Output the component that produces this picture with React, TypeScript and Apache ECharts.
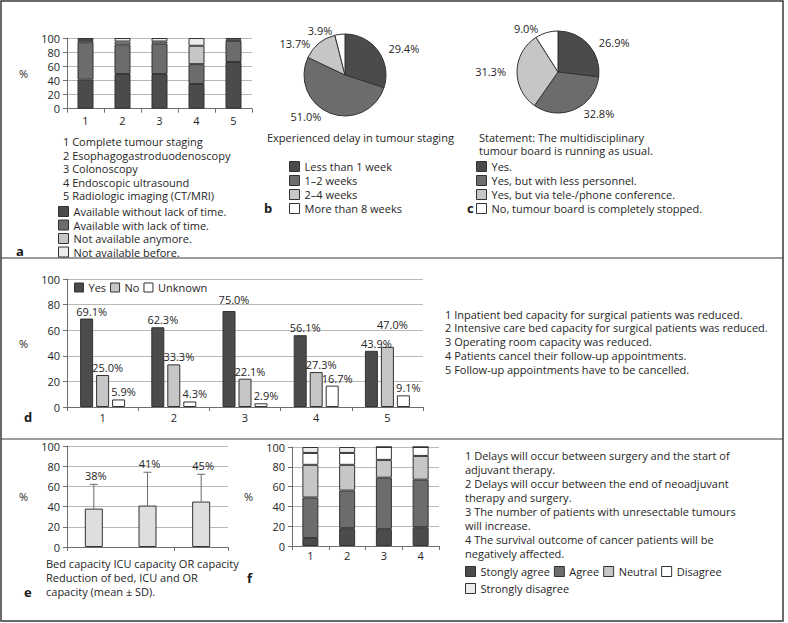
import React, { useEffect, useRef } from "react";
import * as echarts from "echarts";

// ---------- Panel a ----------
const aCategories = ["1", "2", "3", "4", "5"];
const aSeriesNames = [
  "Available without lack of time.",
  "Available with lack of time.",
  "Not available anymore.",
  "Not available before.",
];
const aWithoutLack = [41, 49, 49, 35, 66];
const aWithLack = [53, 42, 43, 28, 30];
const aNotAnymore = [3, 4, 3, 26, 2];
const aNotBefore = [3, 5, 5, 11, 2];
const aItems = [
  "1 Complete tumour staging",
  "2 Esophagogastroduodenoscopy",
  "3 Colonoscopy",
  "4 Endoscopic ultrasound",
  "5 Radiologic imaging (CT/MRI)",
];

// ---------- Panel b ----------
const bNames = ["Less than 1 week", "1–2 weeks", "2–4 weeks", "More than 8 weeks"];
const bValues = [29.4, 51.0, 13.7, 3.9];
const bTitle = "Experienced delay in tumour staging";

// ---------- Panel c ----------
const cNames = [
  "Yes.",
  "Yes, but with less personnel.",
  "Yes, but via tele-/phone conference.",
  "No, tumour board is completely stopped.",
];
const cValues = [26.9, 32.8, 31.3, 9.0];
const cTitle = ["Statement: The multidisciplinary", "tumour board is running as usual."];

// ---------- Panel d ----------
const dCategories = ["1", "2", "3", "4", "5"];
const dSeriesNames = ["Yes", "No", "Unknown"];
const dYes = [69.1, 62.3, 75.0, 56.1, 43.9];
const dNo = [25.0, 33.3, 22.1, 27.3, 47.0];
const dUnknown = [5.9, 4.3, 2.9, 16.7, 9.1];
const dItems = [
  "1 Inpatient bed capacity for surgical patients was reduced.",
  "2 Intensive care bed capacity for surgical patients was reduced.",
  "3 Operating room capacity was reduced.",
  "4 Patients cancel their follow-up appointments.",
  "5 Follow-up appointments have to be cancelled.",
];

// ---------- Panel e ----------
const eCategories = ["Bed capacity", "ICU capacity", "OR capacity"];
const eMeans = [38, 41, 45];
const eSD = [24, 33, 27];
const eCaption = ["Reduction of bed, ICU and OR", "capacity (mean ± SD)."];

// ---------- Panel f ----------
const fCategories = ["1", "2", "3", "4"];
const fSeriesNames = ["Stongly agree", "Agree", "Neutral", "Disagree", "Strongly disagree"];
const fStronglyAgree = [8, 18, 17, 19];
const fAgree = [41, 38, 52, 48];
const fNeutral = [33, 26, 18, 24];
const fDisagree = [12, 12, 13, 9];
const fStronglyDisagree = [6, 6, 0, 0];
const fItems = [
  "1 Delays will occur between surgery and the start of",
  "adjuvant therapy.",
  "2 Delays will occur between the end of neoadjuvant",
  "therapy and surgery.",
  "3 The number of patients with unresectable tumours",
  "will increase.",
  "4 The survival outcome of cancer patients will be",
  "negatively affected.",
];

// ---------- Styles ----------
const FONT = '"Open Sans", sans-serif';
const TXT = "#262626";
const DARK = "#4b4b4b";
const MED = "#6c6c6c";
const LIGHT = "#c6c6c6";
const VLIGHT = "#ececec";
const WHITE = "#ffffff";
const EBAR = "#dedede";
const BORDER = "#333333";
const AXIS = "#6e6e6e";
const GRID = "#b8b8b8";

// per-label vertical nudges for panel d (series index, data index, dy)
const dLabelNudge: [number, number, number][] = [
  [0, 2, -4],
  [1, 4, -15],
];

function txt(text: string, x: number, y: number, extra: any = {}) {
  return {
    type: "text",
    x,
    y,
    silent: true,
    style: {
      text,
      fill: TXT,
      fontFamily: FONT,
      fontSize: 11,
      align: "left",
      textAlign: "left",
      verticalAlign: "middle",
      textVerticalAlign: "middle",
      ...extra,
    },
  };
}

function valueAxis(gridIndex: number) {
  return {
    type: "value",
    gridIndex,
    min: 0,
    max: 100,
    interval: 20,
    name: "%",
    nameLocation: "middle",
    nameRotate: 0,
    nameGap: 39,
    nameTextStyle: { fontFamily: FONT, fontSize: 11, color: TXT },
    axisLine: { show: true, lineStyle: { color: AXIS, width: 1 } },
    axisTick: { show: true, length: 4, lineStyle: { color: AXIS } },
    axisLabel: { fontFamily: FONT, fontSize: 11, color: TXT, margin: 7 },
    splitLine: { show: true, lineStyle: { color: GRID, width: 1 } },
  };
}

function catAxis(gridIndex: number, data: string[], showLabel = true, margin = 6) {
  return {
    type: "category",
    gridIndex,
    data,
    boundaryGap: true,
    axisLine: { show: true, lineStyle: { color: AXIS, width: 1 } },
    axisTick: { show: true, length: 4, lineStyle: { color: AXIS } },
    axisLabel: { show: showLabel, fontFamily: FONT, fontSize: 11, color: TXT, margin },
    splitLine: { show: false },
  };
}

const barBorder = { borderColor: BORDER, borderWidth: 1 };

export default function App() {
  const ref = useRef<HTMLDivElement>(null);

  useEffect(() => {
    if (!ref.current) return;
    const chart = echarts.init(ref.current, undefined, { renderer: "svg" });

    const aData = [aWithoutLack, aWithLack, aNotAnymore, aNotBefore];
    const aColors = [DARK, MED, LIGHT, VLIGHT];
    const fData = [fStronglyAgree, fAgree, fNeutral, fDisagree, fStronglyDisagree];
    const fColors = [DARK, MED, LIGHT, WHITE, VLIGHT];
    const dData = [dYes, dNo, dUnknown];
    const dColors = [DARK, LIGHT, WHITE];

    const pieLabel = {
      show: true,
      position: "outside",
      formatter: (p: any) => Number(p.value).toFixed(1) + "%",
      fontFamily: FONT,
      fontSize: 11,
      color: TXT,
    };

    const legendCommon = {
      icon: "rect",
      itemWidth: 10,
      itemHeight: 10,
      selectedMode: false,
      padding: 0,
      itemStyle: { borderColor: BORDER, borderWidth: 1 },
      textStyle: { fontFamily: FONT, fontSize: 11, color: TXT, lineHeight: 13 },
    };

    const graphics: any[] = [
      // frame and row separators
      { type: "rect", shape: { x: 1, y: 1, width: 782, height: 620 }, style: { fill: "none", stroke: "#3a3a3a", lineWidth: 1.5 }, silent: true },
      { type: "line", shape: { x1: 1, y1: 258, x2: 783, y2: 258 }, style: { stroke: "#3a3a3a", lineWidth: 1.2 }, silent: true },
      { type: "line", shape: { x1: 1, y1: 439, x2: 783, y2: 439 }, style: { stroke: "#3a3a3a", lineWidth: 1.2 }, silent: true },
    ];
    aItems.forEach((t, i) => graphics.push(txt(t, 63, 141.5 + i * 13.5)));
    graphics.push(txt(bTitle, 267, 137));
    cTitle.forEach((t, i) => graphics.push(txt(t, 479, 137 + i * 13.5)));
    dItems.forEach((t, i) => graphics.push(txt(t, 445, 314 + i * 13.75)));
    graphics.push(txt(eCategories.join(" "), 46, 563));
    eCaption.forEach((t, i) => graphics.push(txt(t, 46, 577 + i * 14)));
    fItems.forEach((t, i) => graphics.push(txt(t, 465, 455 + i * 14)));
    const letters: [string, number, number][] = [
      ["a", 16, 251],
      ["b", 264, 208],
      ["c", 467, 208],
      ["d", 24, 417],
      ["e", 24, 592],
      ["f", 247, 578],
    ];
    letters.forEach(([l, x, y]) =>
      graphics.push(txt(l, x, y, { fontWeight: "bold", fontSize: 13, fill: "#1a1a1a" }))
    );

    const series: any[] = [];
    // panel a
    aData.forEach((arr, i) =>
      series.push({
        type: "bar",
        name: aSeriesNames[i],
        xAxisIndex: 0,
        yAxisIndex: 0,
        stack: "a",
        barWidth: 16,
        data: arr,
        itemStyle: { color: aColors[i], ...barBorder },
        silent: true,
      })
    );
    // panel b
    series.push({
      type: "pie",
      center: [345, 75],
      radius: 41,
      startAngle: 90,
      clockwise: true,
      silent: true,
      data: bNames.map((n, i) => ({ name: n, value: bValues[i], itemStyle: { color: [DARK, MED, LIGHT, WHITE][i] } })),
      itemStyle: { borderColor: BORDER, borderWidth: 1 },
      label: pieLabel,
      labelLine: { show: false, length: 4, length2: 2 },
    });
    // panel c
    series.push({
      type: "pie",
      center: [558, 72],
      radius: 41,
      startAngle: 90,
      clockwise: true,
      silent: true,
      data: cNames.map((n, i) => ({ name: n, value: cValues[i], itemStyle: { color: [DARK, MED, LIGHT, WHITE][i] } })),
      itemStyle: { borderColor: BORDER, borderWidth: 1 },
      label: pieLabel,
      labelLine: { show: false, length: 4, length2: 2 },
    });
    // panel d
    dData.forEach((arr, si) =>
      series.push({
        type: "bar",
        name: dSeriesNames[si],
        xAxisIndex: 1,
        yAxisIndex: 1,
        barWidth: 13,
        barGap: "23%",
        silent: true,
        data: arr.map((v, di) => {
          const n = dLabelNudge.find(([s, d]) => s === si && d === di);
          return n ? { value: v, label: { offset: [5, n[2]] } } : v;
        }),
        itemStyle: { color: dColors[si], ...barBorder },
        label: {
          show: true,
          position: "top",
          distance: 2,
          offset: [5, 0],
          formatter: (p: any) => Number(p.value).toFixed(1) + "%",
          fontFamily: FONT,
          fontSize: 11,
          color: TXT,
        },
      })
    );
    // panel e
    series.push({
      type: "bar",
      xAxisIndex: 2,
      yAxisIndex: 2,
      barWidth: 18,
      silent: true,
      data: eMeans,
      itemStyle: { color: EBAR, ...barBorder },
    });
    series.push({
      type: "custom",
      xAxisIndex: 2,
      yAxisIndex: 2,
      silent: true,
      z: 3,
      encode: { x: 0, y: [1, 2] },
      data: eMeans.map((m, i) => [i, m, m + eSD[i]]),
      renderItem: (_params: any, api: any) => {
        const base = api.coord([api.value(0), api.value(1)]);
        const top = api.coord([api.value(0), api.value(2)]);
        return {
          type: "group",
          children: [
            { type: "line", shape: { x1: base[0], y1: base[1], x2: top[0], y2: top[1] }, style: { stroke: "#6a6a6a", lineWidth: 1 } },
            { type: "line", shape: { x1: top[0] - 4, y1: top[1], x2: top[0] + 4, y2: top[1] }, style: { stroke: "#6a6a6a", lineWidth: 1 } },
            {
              type: "text",
              x: top[0] + 2,
              y: top[1] - 9,
              style: {
                text: Math.round(api.value(1)) + "%",
                align: "center",
                textAlign: "center",
                verticalAlign: "middle",
                textVerticalAlign: "middle",
                fontFamily: FONT,
                fontSize: 11,
                fill: TXT,
              },
            },
          ],
        };
      },
    });
    // panel f
    fData.forEach((arr, i) =>
      series.push({
        type: "bar",
        name: fSeriesNames[i],
        xAxisIndex: 3,
        yAxisIndex: 3,
        stack: "f",
        barWidth: 16,
        silent: true,
        data: arr,
        itemStyle: { color: fColors[i], ...barBorder },
      })
    );

    const option: any = {
      animation: false,
      backgroundColor: "#ffffff",
      textStyle: { fontFamily: FONT },
      grid: [
        { left: 67, top: 38, width: 185, height: 70.7 },
        { left: 67, top: 279, width: 356, height: 128 },
        { left: 67, top: 446, width: 161, height: 101 },
        { left: 292, top: 447, width: 147, height: 99 },
      ],
      xAxis: [
        catAxis(0, aCategories, true, 6),
        catAxis(1, dCategories, true, 5),
        catAxis(2, eCategories, false),
        catAxis(3, fCategories, true, 4),
      ],
      yAxis: [valueAxis(0), valueAxis(1), valueAxis(2), valueAxis(3)],
      legend: [
        { ...legendCommon, data: aSeriesNames, orient: "vertical", left: 58, top: 205, itemGap: 0.5 },
        { ...legendCommon, data: bNames, orient: "vertical", left: 289, top: 160, itemGap: 1 },
        { ...legendCommon, data: cNames, orient: "vertical", left: 476, top: 160, itemGap: 1 },
        { ...legendCommon, data: dSeriesNames, orient: "horizontal", left: 74, top: 281, itemGap: 4, itemWidth: 9, itemHeight: 9 },
        { ...legendCommon, data: fSeriesNames, orient: "horizontal", left: 465, top: 565, width: 262, itemGap: 4 },
      ],
      graphic: graphics,
      series,
    };

    chart.setOption(option);
    return () => chart.dispose();
  }, []);

  return (
    <div
      ref={ref}
      style={{ position: "fixed", left: 0, top: 0, width: 788, height: 623, background: "#fff" }}
    />
  );
}
